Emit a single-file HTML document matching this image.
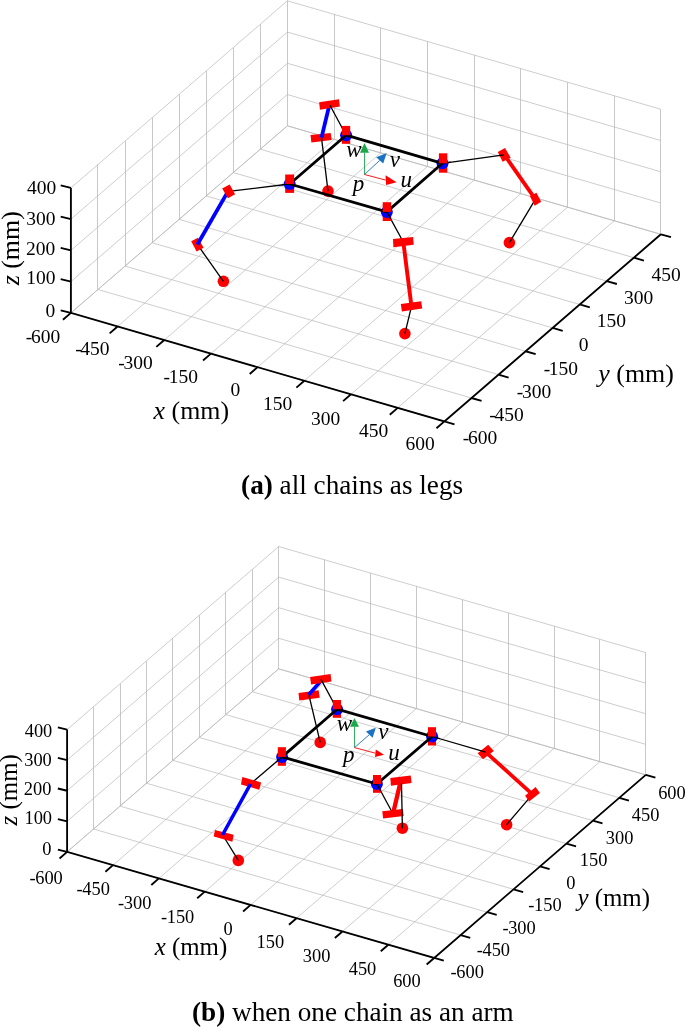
<!DOCTYPE html>
<html><head><meta charset="utf-8"><style>
html,body{margin:0;padding:0;background:#fff;overflow:hidden;}
svg{display:block;will-change:transform;}
text{font-family:"Liberation Serif",serif;fill:#000;}
</style></head><body>
<svg width="685" height="1027" viewBox="0 0 685 1027">
<path d="M287.5 125.8L287.5 0.8M97.5 289.51L97.5 164.51M334.5 139.36L334.5 14.36M125.5 266.12L125.5 141.12M380.5 152.92L380.5 27.92M152.5 242.74L152.5 117.74M427.5 166.49L427.5 41.49M179.5 219.35L179.5 94.35M474.5 180.05L474.5 55.05M206.5 195.96L206.5 70.96M520.5 193.61L520.5 68.61M233.5 172.57L233.5 47.57M567.5 207.17L567.5 82.17M260.5 149.19L260.5 24.19M614.5 220.74L614.5 95.74M287.5 125.8L287.5 0.8M660.5 234.3L660.5 109.3" stroke="#c8c8c8" stroke-width="1" fill="none"/>
<path d="M70.9 312.9L287.4 125.8M70.9 312.9L444.4 421.4M117.59 326.46L334.09 139.36M97.96 289.51L471.46 398.01M164.28 340.02L380.77 152.92M125.03 266.12L498.52 374.62M210.96 353.59L427.46 166.49M152.09 242.74L525.59 351.24M257.65 367.15L474.15 180.05M179.15 219.35L552.65 327.85M304.34 380.71L520.84 193.61M206.21 195.96L579.71 304.46M351.02 394.27L567.52 207.17M233.28 172.57L606.77 281.07M397.71 407.84L614.21 220.74M260.34 149.19L633.84 257.69M444.4 421.4L660.9 234.3M287.4 125.8L660.9 234.3M70.9 312.9L287.4 125.8M287.4 125.8L660.9 234.3M70.9 281.65L287.4 94.55M287.4 94.55L660.9 203.05M70.9 250.4L287.4 63.3M287.4 63.3L660.9 171.8M70.9 219.15L287.4 32.05M287.4 32.05L660.9 140.55M70.9 187.9L287.4 0.8M287.4 0.8L660.9 109.3" stroke="#b8b8b8" stroke-width="0.7" fill="none"/>
<path d="M70.9 187.9L70.9 312.9L444.4 421.4L660.9 234.3M70.9 312.9L60.69 310.44M70.9 281.65L60.69 279.19M70.9 250.4L60.69 247.94M70.9 219.15L60.69 216.69M70.9 187.9L60.69 185.44M70.9 312.9L62.96 319.77M444.4 421.4L454.48 424.33M117.59 326.46L109.64 333.33M471.46 398.01L481.55 400.94M164.28 340.02L156.33 346.89M498.52 374.62L508.61 377.55M210.96 353.59L203.02 360.45M525.59 351.24L535.67 354.17M257.65 367.15L249.71 374.02M552.65 327.85L562.73 330.78M304.34 380.71L296.39 387.58M579.71 304.46L589.8 307.39M351.02 394.27L343.08 401.14M606.77 281.07L616.86 284M397.71 407.84L389.77 414.7M633.84 257.69L643.92 260.62M444.4 421.4L436.46 428.27M660.9 234.3L670.98 237.23" stroke="#000" stroke-width="1.85" fill="none" stroke-linejoin="miter"/>
<path d="M278.5 668.85L278.5 546.55M93.5 829.02L93.5 706.72M324.5 682.11L324.5 559.81M120.5 806.14L120.5 683.84M370.5 695.36L370.5 573.06M146.5 783.26L146.5 660.96M416.5 708.62L416.5 586.32M172.5 760.38L172.5 638.08M462.5 721.88L462.5 599.58M199.5 737.49L199.5 615.19M508.5 735.13L508.5 612.83M225.5 714.61L225.5 592.31M554.5 748.39L554.5 626.09M252.5 691.73L252.5 569.43M599.5 761.64L599.5 639.34M278.5 668.85L278.5 546.55M645.5 774.9L645.5 652.6" stroke="#c8c8c8" stroke-width="1" fill="none"/>
<path d="M67.1 851.9L278.7 668.85M67.1 851.9L434.2 957.95M112.99 865.16L324.59 682.11M93.55 829.02L460.65 935.07M158.88 878.41L370.48 695.36M120 806.14L487.1 912.19M204.76 891.67L416.36 708.62M146.45 783.26L513.55 889.31M250.65 904.92L462.25 721.88M172.9 760.38L540 866.42M296.54 918.18L508.14 735.13M199.35 737.49L566.45 843.54M342.43 931.44L554.03 748.39M225.8 714.61L592.9 820.66M388.31 944.69L599.91 761.64M252.25 691.73L619.35 797.78M434.2 957.95L645.8 774.9M278.7 668.85L645.8 774.9M67.1 851.9L278.7 668.85M278.7 668.85L645.8 774.9M67.1 821.32L278.7 638.27M278.7 638.27L645.8 744.32M67.1 790.75L278.7 607.7M278.7 607.7L645.8 713.75M67.1 760.17L278.7 577.12M278.7 577.12L645.8 683.17M67.1 729.6L278.7 546.55M278.7 546.55L645.8 652.6" stroke="#b8b8b8" stroke-width="0.7" fill="none"/>
<path d="M67.1 729.6L67.1 851.9L434.2 957.95L645.8 774.9M67.1 851.9L57.86 849.67M67.1 821.32L57.86 819.1M67.1 790.75L57.86 788.52M67.1 760.17L57.86 757.95M67.1 729.6L57.86 727.37M67.1 851.9L59.54 858.44M434.2 957.95L443.81 960.73M112.99 865.16L105.42 871.7M460.65 935.07L470.26 937.84M158.88 878.41L151.31 884.95M487.1 912.19L496.71 914.96M204.76 891.67L197.2 898.21M513.55 889.31L523.16 892.08M250.65 904.92L243.09 911.47M540 866.42L549.61 869.2M296.54 918.18L288.97 924.72M566.45 843.54L576.06 846.32M342.43 931.44L334.86 937.98M592.9 820.66L602.51 823.44M388.31 944.69L380.75 951.24M619.35 797.78L628.96 800.56M434.2 957.95L426.64 964.49M645.8 774.9L655.41 777.68" stroke="#000" stroke-width="1.85" fill="none" stroke-linejoin="miter"/>
<circle cx="223.4" cy="281.3" r="5.8" fill="#ff0000"/>
<circle cx="328" cy="191.1" r="5.8" fill="#ff0000"/>
<circle cx="509.4" cy="242.6" r="5.8" fill="#ff0000"/>
<circle cx="404.9" cy="333.6" r="5.8" fill="#ff0000"/>
<path d="M289.7 184L228.7 191.4M197.4 244.5L223.4 281.3M535.5 199.1L509.4 242.6M386.8 211.9L403.3 242M411.5 306.4L404.9 333.6" stroke="#000" stroke-width="1.3" fill="none"/>
<polygon points="191.2,241.2 198,237.7 203.6,247.8 196.6,251.5" fill="#ff0000"/>
<polygon points="310.5,135.1 330.7,132.9 331.7,139.9 311.4,142.6" fill="#ff0000"/>
<polygon points="529.9,196.2 536.4,192.7 541.2,201.8 534.7,205.8" fill="#ff0000"/>
<polygon points="400.8,304.1 421.2,301.3 422.2,308.5 401.9,311.5" fill="#ff0000"/>
<line x1="228" y1="191.4" x2="197.4" y2="244.5" stroke="#0000ff" stroke-width="3.8"/>
<line x1="329.5" y1="104.5" x2="321.5" y2="137.6" stroke="#0000ff" stroke-width="3.8"/>
<line x1="504.2" y1="154.7" x2="535.3" y2="199.2" stroke="#ff0000" stroke-width="3.8"/>
<line x1="403.3" y1="242" x2="411.5" y2="306.4" stroke="#ff0000" stroke-width="3.9"/>
<polygon points="222.2,188.6 229.7,184.5 235.1,194.3 227.9,198.2" fill="#ff0000"/>
<polygon points="319.1,102.3 339,99.2 339.9,106.6 320,109.7" fill="#ff0000"/>
<polygon points="497.8,152 505,148 510.7,157.7 502.6,161.7" fill="#ff0000"/>
<polygon points="393,239 413.1,237 413.7,244.7 393.4,247.3" fill="#ff0000"/>
<path d="M346.1 135.2L329.8 105M321.5 137.8L328 191.1M442.5 163.3L504 154.9" stroke="#000" stroke-width="1.3" fill="none"/>
<rect x="285.2" y="184" width="8.9" height="8.9" fill="#ff0000"/>
<rect x="341.9" y="135.2" width="8.3" height="8.6" fill="#ff0000"/>
<rect x="438.9" y="163.3" width="8.4" height="9.4" fill="#ff0000"/>
<rect x="382.7" y="211.9" width="8.5" height="9.1" fill="#ff0000"/>
<circle cx="289.7" cy="184" r="6.0" fill="#0000ff"/>
<circle cx="346.1" cy="135.2" r="6.0" fill="#0000ff"/>
<circle cx="442.5" cy="163.3" r="6.0" fill="#0000ff"/>
<circle cx="386.8" cy="211.9" r="6.0" fill="#0000ff"/>
<path d="M289.7 184L281.76 184.96M346.1 135.2L342.3 128.16M442.5 163.3L450.43 162.22M386.8 211.9L390.65 218.92" stroke="#000" stroke-width="1.3" fill="none"/>
<polygon points="289.7,184 346.1,135.2 442.5,163.3 386.8,211.9" fill="none" stroke="#000" stroke-width="2.8" stroke-linejoin="round"/>
<rect x="285.2" y="174.5" width="8.9" height="9.5" fill="#ff0000"/>
<rect x="341.9" y="125.9" width="8.3" height="9.3" fill="#ff0000"/>
<rect x="438.9" y="153.3" width="8.4" height="10" fill="#ff0000"/>
<rect x="382.7" y="202.2" width="8.5" height="9.7" fill="#ff0000"/>
<line x1="364.5" y1="174.5" x2="364.5" y2="152.8" stroke="#1aa84a" stroke-width="0.9"/>
<polygon points="364.5,142.9 360,152.8 369,152.8" fill="#1aa84a"/>
<line x1="364.5" y1="174.5" x2="379.7" y2="160.4" stroke="#1a72c4" stroke-width="0.9"/>
<polygon points="386.7,153.1 376.2,157.2 383.2,163.6" fill="#1a72c4"/>
<line x1="364.5" y1="174.5" x2="385.8" y2="180.15" stroke="#ff0000" stroke-width="0.9"/>
<polygon points="396.6,182.3 385.5,175.3 386.1,185" fill="#ff0000"/>
<circle cx="238.3" cy="860.4" r="5.8" fill="#ff0000"/>
<circle cx="320.2" cy="742.4" r="5.8" fill="#ff0000"/>
<circle cx="506.6" cy="824.7" r="5.8" fill="#ff0000"/>
<circle cx="402.4" cy="828.2" r="5.8" fill="#ff0000"/>
<path d="M282.1 756.9L251 783.4M223 835.5L238.3 860.4M532.5 794.3L506.6 824.7M376.9 784L393 813.7" stroke="#000" stroke-width="1.3" fill="none"/>
<polygon points="214.9,830.1 233.6,834.7 232.4,841.8 213.8,836.5" fill="#ff0000"/>
<polygon points="298.5,693.1 318.6,690.2 319.7,697.7 299.3,700.6" fill="#ff0000"/>
<polygon points="525.1,795.8 535.6,787 539.9,793 529.1,801.5" fill="#ff0000"/>
<polygon points="382.3,811.2 402.8,809 403.7,816 383.1,818.6" fill="#ff0000"/>
<line x1="320" y1="682" x2="308.7" y2="694.8" stroke="#0000ff" stroke-width="3.6"/>
<line x1="485.7" y1="752.1" x2="532.5" y2="794.3" stroke="#ff0000" stroke-width="3.8"/>
<line x1="400.6" y1="781.5" x2="393.3" y2="812.5" stroke="#ff0000" stroke-width="4.3"/>
<polygon points="242.4,776.9 261.1,782.4 259.3,789.8 241,784.5" fill="#ff0000"/>
<polygon points="310.1,677 330.6,674.1 331.4,681.6 311.1,684.5" fill="#ff0000"/>
<polygon points="477.7,753.3 488.2,744.8 493.8,750.9 483,759.2" fill="#ff0000"/>
<polygon points="390.3,777.9 410.7,775.4 411.6,783 391,785.8" fill="#ff0000"/>
<line x1="250.5" y1="784" x2="222.5" y2="835" stroke="#0000ff" stroke-width="3.6"/>
<path d="M337.1 709.2L321 679.4M309 695.4L320.2 742.4M432.1 736.5L485.7 752.1M401.5 783.5L402.4 828.2" stroke="#000" stroke-width="1.3" fill="none"/>
<rect x="277.8" y="756.9" width="8.1" height="8.9" fill="#ff0000"/>
<rect x="332.8" y="709.2" width="8.2" height="8.6" fill="#ff0000"/>
<rect x="428" y="736.5" width="8" height="9" fill="#ff0000"/>
<rect x="373" y="784" width="8" height="8.8" fill="#ff0000"/>
<circle cx="282.1" cy="756.9" r="6.0" fill="#0000ff"/>
<circle cx="337.1" cy="709.2" r="6.0" fill="#0000ff"/>
<circle cx="432.1" cy="736.5" r="6.0" fill="#0000ff"/>
<circle cx="376.9" cy="784" r="6.0" fill="#0000ff"/>
<path d="M282.1 756.9L276.01 762.09M337.1 709.2L333.3 702.16M432.1 736.5L439.78 738.74M376.9 784L380.71 791.03" stroke="#000" stroke-width="1.3" fill="none"/>
<polygon points="282.1,756.9 337.1,709.2 432.1,736.5 376.9,784" fill="none" stroke="#000" stroke-width="2.8" stroke-linejoin="round"/>
<rect x="277.8" y="747.2" width="8.1" height="9.7" fill="#ff0000"/>
<rect x="332.8" y="700" width="8.2" height="9.2" fill="#ff0000"/>
<rect x="428" y="727.2" width="8" height="9.3" fill="#ff0000"/>
<rect x="373" y="775" width="8" height="9" fill="#ff0000"/>
<line x1="354.5" y1="747.6" x2="354.5" y2="726.7" stroke="#1aa84a" stroke-width="0.9"/>
<polygon points="354.5,717.9 350,726.7 359,726.7" fill="#1aa84a"/>
<line x1="354.5" y1="747.6" x2="369.3" y2="734.7" stroke="#1a72c4" stroke-width="0.9"/>
<polygon points="375.8,727.8 366,731.6 372.6,737.8" fill="#1a72c4"/>
<line x1="354.5" y1="747.6" x2="375.4" y2="753.2" stroke="#ff0000" stroke-width="0.9"/>
<polygon points="384,754.7 375.8,749.5 375,756.9" fill="#ff0000"/>
<text x="26.9" y="194.05" font-size="19.5">400</text>
<text x="26.15" y="224.6" font-size="19.5">300</text>
<text x="26.05" y="255.15" font-size="19.5">200</text>
<text x="26.2" y="284.4" font-size="19.5">100</text>
<text x="45.6" y="317" font-size="19.5">0</text>
<text x="25.8" y="343.15" font-size="19.5">-<tspan dx="-1.4">600</tspan></text>
<text x="75.2" y="354.95" font-size="19.5">-<tspan dx="-1.4">450</tspan></text>
<text x="118.35" y="369.35" font-size="19.5">-<tspan dx="-1.4">300</tspan></text>
<text x="163.6" y="383" font-size="19.5">-<tspan dx="-1.4">150</tspan></text>
<text x="230.6" y="396.4" font-size="19.5">0</text>
<text x="263" y="410.3" font-size="19.5">150</text>
<text x="310.9" y="424.7" font-size="19.5">300</text>
<text x="358.9" y="437.15" font-size="19.5">450</text>
<text x="405.6" y="449.75" font-size="19.5">600</text>
<text x="462.85" y="444.05" font-size="19.5">-<tspan dx="-1.4">600</tspan></text>
<text x="489.35" y="420.9" font-size="19.5">-<tspan dx="-1.4">450</tspan></text>
<text x="516.8" y="398.3" font-size="19.5">-<tspan dx="-1.4">300</tspan></text>
<text x="543.65" y="375.35" font-size="19.5">-<tspan dx="-1.4">150</tspan></text>
<text x="578.7" y="351.15" font-size="19.5">0</text>
<text x="596.85" y="326.95" font-size="19.5">150</text>
<text x="624" y="304.15" font-size="19.5">300</text>
<text x="651.55" y="280.75" font-size="19.5">450</text>
<text x="24.7" y="736.75" font-size="18.4">400</text>
<text x="24.2" y="765.95" font-size="18.4">300</text>
<text x="23.8" y="795.3" font-size="18.4">200</text>
<text x="24.45" y="823.9" font-size="18.4">100</text>
<text x="42.25" y="854.55" font-size="18.4">0</text>
<text x="29.5" y="884.25" font-size="18.4">-<tspan dx="-0.4">600</tspan></text>
<text x="76.55" y="895.45" font-size="18.4">-<tspan dx="-0.4">450</tspan></text>
<text x="118.05" y="909.15" font-size="18.4">-<tspan dx="-0.4">300</tspan></text>
<text x="161" y="922.55" font-size="18.4">-<tspan dx="-0.4">150</tspan></text>
<text x="223.55" y="935.35" font-size="18.4">0</text>
<text x="256.6" y="948.2" font-size="18.4">150</text>
<text x="302.85" y="961.6" font-size="18.4">300</text>
<text x="348.7" y="975" font-size="18.4">450</text>
<text x="393.15" y="987.1" font-size="18.4">600</text>
<text x="450.55" y="978.05" font-size="18.4">-<tspan dx="-0.4">600</tspan></text>
<text x="476.75" y="955.85" font-size="18.4">-<tspan dx="-0.4">450</tspan></text>
<text x="502.45" y="933.65" font-size="18.4">-<tspan dx="-0.4">300</tspan></text>
<text x="528.35" y="910.85" font-size="18.4">-<tspan dx="-0.4">150</tspan></text>
<text x="566.15" y="889.25" font-size="18.4">0</text>
<text x="579.8" y="865.65" font-size="18.4">150</text>
<text x="605.75" y="844" font-size="18.4">300</text>
<text x="631.8" y="820.6" font-size="18.4">450</text>
<text x="658.15" y="799.1" font-size="18.4">600</text>
<text x="153.6" y="419.25" font-size="25.9"><tspan font-style="italic">x</tspan> (mm)</text>
<text x="598.3" y="381.6" font-size="25.9"><tspan font-style="italic">y</tspan> (mm)</text>
<text transform="translate(18.65 285.3) rotate(-90)" font-size="25.9"><tspan font-style="italic">z</tspan> (mm)</text>
<text x="154.65" y="955" font-size="24.9"><tspan font-style="italic">x</tspan> (mm)</text>
<text x="577.4" y="905.6" font-size="24.9"><tspan font-style="italic">y</tspan> (mm)</text>
<text transform="translate(17.4 825.4) rotate(-90)" font-size="24.9"><tspan font-style="italic">z</tspan> (mm)</text>
<text x="241.1" y="493.65" font-size="27.2"><tspan font-weight="bold">(a)</tspan> all chains as legs</text>
<text x="192.05" y="1021.2" font-size="27.2"><tspan font-weight="bold">(b)</tspan> when one chain as an arm</text>
<text x="346.3" y="157.15" font-size="23" style="font-style:italic">w</text>
<text x="389.65" y="166.5" font-size="23" style="font-style:italic">v</text>
<text x="352.8" y="190.55" font-size="23" style="font-style:italic">p</text>
<text x="400.55" y="186.95" font-size="23" style="font-style:italic">u</text>
<text x="336.75" y="731.35" font-size="23" style="font-style:italic">w</text>
<text x="378.2" y="739.45" font-size="23" style="font-style:italic">v</text>
<text x="343.1" y="761.75" font-size="23" style="font-style:italic">p</text>
<text x="388.25" y="759.6" font-size="23" style="font-style:italic">u</text>
</svg></body></html>
